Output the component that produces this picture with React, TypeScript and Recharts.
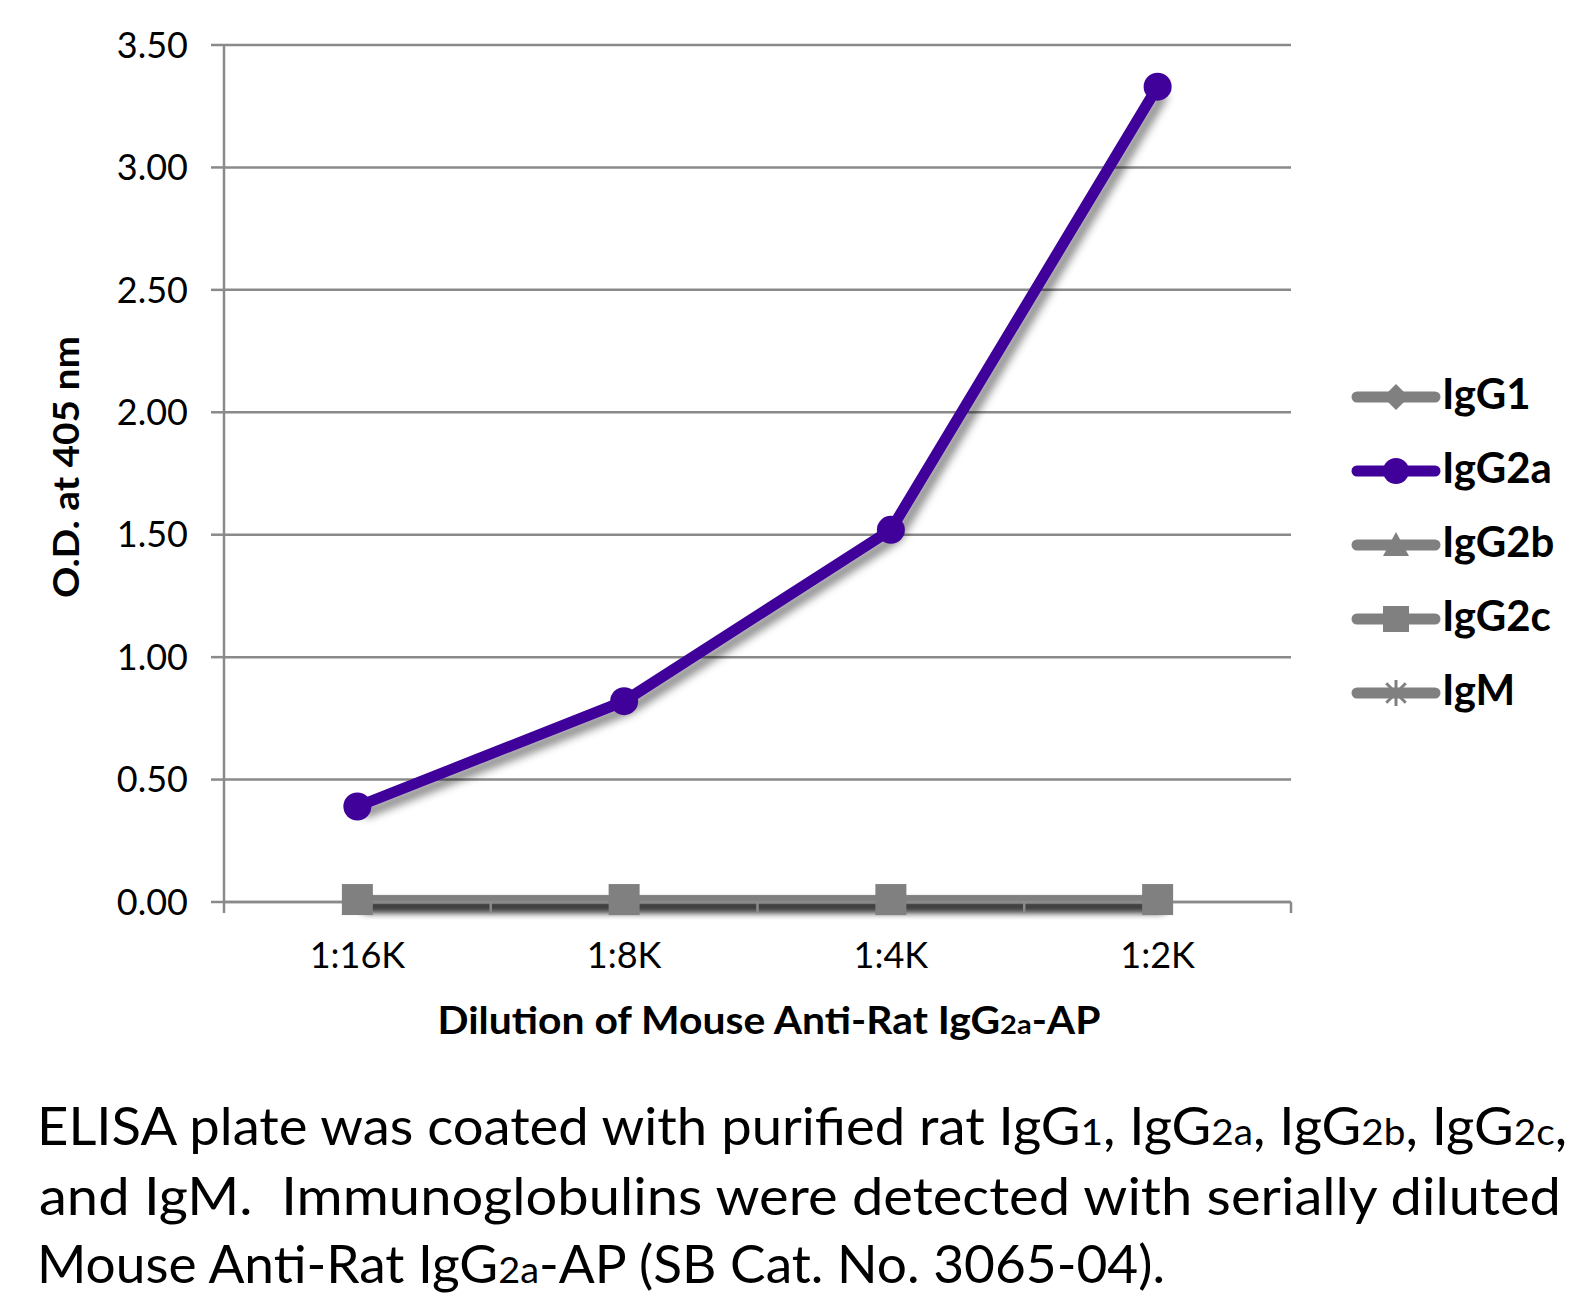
import React from "react";
import { LineChart, Line, XAxis, YAxis, CartesianGrid, Legend } from "recharts";

// dilution steps and O.D. readings
const categories = ["1:16K", "1:8K", "1:4K", "1:2K"];
const igG1 = [0.01, 0.01, 0.01, 0.01];
const igG2a = [0.39, 0.82, 1.52, 3.33];
const igG2b = [0.01, 0.01, 0.01, 0.01];
const igG2c = [0.01, 0.01, 0.01, 0.01];
const igM = [0.01, 0.01, 0.01, 0.01];
const yTicks = [0, 0.5, 1, 1.5, 2, 2.5, 3, 3.5];
const seriesNames = ["IgG1", "IgG2a", "IgG2b", "IgG2c", "IgM"];
const seriesValues = [igG1, igG2a, igG2b, igG2c, igM];

const GRAY = "#808080";
const PURPLE = "#40009a";
const AXIS = "#8a8a8a";

// looks per series
const seriesStyle: Record<string, { color: string; shape: string; width: number; size: number }> = {
  IgG1: { color: GRAY, shape: "diamond", width: 8, size: 28 },
  IgG2a: { color: PURPLE, shape: "circle", width: 11, size: 28 },
  IgG2b: { color: GRAY, shape: "triangle", width: 8, size: 28 },
  IgG2c: { color: GRAY, shape: "square", width: 8, size: 31 },
  IgM: { color: GRAY, shape: "star", width: 8, size: 28 },
};

const data = categories.map((dilution, i) => {
  const row: Record<string, string | number> = { dilution };
  seriesNames.forEach((name, s) => {
    row[name] = seriesValues[s][i];
  });
  return row;
});

const CHART_W = 1580;
const CHART_H = 1040;
const PLOT_LEFT = 216;
const PLOT_RIGHT = 1283;
const BAND = (PLOT_RIGHT - PLOT_LEFT) / categories.length;

const Marker = ({ shape, cx, cy, color, size }: any) => {
  const r = size / 2;
  switch (shape) {
    case "circle":
      return <circle cx={cx} cy={cy} r={r} fill={color} />;
    case "square":
      return <rect x={cx - r} y={cy - r} width={size} height={size} fill={color} />;
    case "diamond":
      return <polygon points={`${cx},${cy - r} ${cx + r},${cy} ${cx},${cy + r} ${cx - r},${cy}`} fill={color} />;
    case "triangle":
      return <polygon points={`${cx},${cy - r} ${cx + r},${cy + r * 0.85} ${cx - r},${cy + r * 0.85}`} fill={color} />;
    default:
      return (
        <g stroke={color} strokeWidth={3}>
          <line x1={cx - r} y1={cy} x2={cx + r} y2={cy} />
          <line x1={cx} y1={cy - r} x2={cx} y2={cy + r} />
          <line x1={cx - r * 0.75} y1={cy - r * 0.75} x2={cx + r * 0.75} y2={cy + r * 0.75} />
          <line x1={cx - r * 0.75} y1={cy + r * 0.75} x2={cx + r * 0.75} y2={cy - r * 0.75} />
        </g>
      );
  }
};

const XTick = (props: any) => {
  const { x, y, payload, index } = props;
  return (
    <g>
      <line x1={x - BAND / 2} y1={y} x2={x - BAND / 2} y2={y + 11} stroke={AXIS} strokeWidth={2.5} />
      {index === categories.length - 1 && (
        <line x1={x + BAND / 2} y1={y} x2={x + BAND / 2} y2={y + 11} stroke={AXIS} strokeWidth={2.5} />
      )}
      <text x={x} y={y + 66} textAnchor="middle" fontSize={36} fill="#000">
        {payload.value}
      </text>
    </g>
  );
};

const renderXTitle = () => (
  <text x={761} y={1026} textAnchor="middle" fontSize={38} fontWeight="bold" fill="#000"
    textLength={663} lengthAdjust="spacingAndGlyphs">
    Dilution of Mouse Anti-Rat IgG<tspan fontSize={27}>2a</tspan>-AP
  </text>
);

const renderYTitle = () => (
  <text x={71} y={459} transform="rotate(-90, 71, 459)" textAnchor="middle" fontSize={36}
    fontWeight="bold" fill="#000" textLength={262} lengthAdjust="spacingAndGlyphs">
    O.D. at 405 nm
  </text>
);

const renderLegend = () => (
  <svg width={240} height={370}>
    {seriesNames.map((name, i) => {
      const st = seriesStyle[name];
      const cy = 37 + i * 74;
      return (
        <g key={name}>
          <line x1={17} y1={cy} x2={95} y2={cy} stroke={st.color} strokeWidth={11} strokeLinecap="round" />
          <Marker shape={st.shape} cx={56} cy={cy} color={st.color} size={26} />
          <text x={102} y={cy + 12} fontSize={42} fontWeight="bold" fill="#000">{name}</text>
        </g>
      );
    })}
  </svg>
);

const Sub = ({ children }: any) => <tspan fontSize={37}>{children}</tspan>;

const App: React.FC = () => {
  return (
    <div style={{ position: "relative", width: CHART_W, height: 1290, fontFamily: "Lato, sans-serif", background: "#fff" }}>
      <style>{`.shadowed { filter: url(#lineShadow); }`}</style>
      <LineChart
        width={CHART_W}
        height={CHART_H}
        data={data}
        margin={{ top: 37, right: CHART_W - PLOT_RIGHT, left: 0, bottom: 0 }}
      >
        <defs>
          <filter id="lineShadow" filterUnits="userSpaceOnUse" x={0} y={0} width={CHART_W} height={CHART_H}>
            <feDropShadow dx={6} dy={7} stdDeviation={4.5} floodColor="#000" floodOpacity={0.45} />
          </filter>
        </defs>
        <CartesianGrid vertical={false} stroke={AXIS} strokeWidth={2.5} />
        <XAxis
          dataKey="dilution"
          scale="band"
          interval={0}
          height={CHART_H - 894}
          tickLine={false}
          tickSize={0}
          tickMargin={0}
          axisLine={{ stroke: AXIS, strokeWidth: 2.5 }}
          tick={<XTick />}
          label={renderXTitle}
        />
        <YAxis
          domain={[0, 3.5]}
          ticks={yTicks}
          width={PLOT_LEFT}
          tickFormatter={(v: number) => v.toFixed(2)}
          tickSize={13}
          tickMargin={23}
          tickLine={{ stroke: AXIS, strokeWidth: 2.5 }}
          axisLine={{ stroke: AXIS, strokeWidth: 2.5 }}
          tick={{ fill: "#000", fontSize: 36 }}
          label={renderYTitle}
        />
        <Legend
          layout="vertical"
          align="center"
          verticalAlign="middle"
          content={renderLegend}
          wrapperStyle={{ left: 1332, top: 352, width: 240, height: 370 }}
        />
        {seriesNames.map((name) => {
          const st = seriesStyle[name];
          return (
            <Line
              key={name}
              className="shadowed"
              dataKey={name}
              stroke={st.color}
              strokeWidth={st.width}
              isAnimationActive={false}
              activeDot={false}
              dot={(p: any) => (
                <g key={`${name}-${p.index}`}>
                  <Marker shape={st.shape} cx={p.cx} cy={p.cy} color={st.color} size={st.size} />
                </g>
              )}
            />
          );
        })}
      </LineChart>
      <svg width={CHART_W} height={1290} style={{ position: "absolute", left: 0, top: 0, pointerEvents: "none" }}>
        <g fontSize={52} fill="#000">
          <text x={29} y={1137} textLength={1530} lengthAdjust="spacingAndGlyphs">
            ELISA plate was coated with purified rat IgG<Sub>1</Sub>, IgG<Sub>2a</Sub>, IgG<Sub>2b</Sub>, IgG<Sub>2c</Sub>,
          </text>
          <text x={31} y={1207} textLength={1522} lengthAdjust="spacingAndGlyphs">
            {"and IgM.\u00a0 Immunoglobulins were detected with serially diluted"}
          </text>
          <text x={29} y={1275} textLength={1128} lengthAdjust="spacingAndGlyphs">
            Mouse Anti-Rat IgG<Sub>2a</Sub>-AP (SB Cat. No. 3065-04).
          </text>
        </g>
      </svg>
    </div>
  );
};

export default App;
